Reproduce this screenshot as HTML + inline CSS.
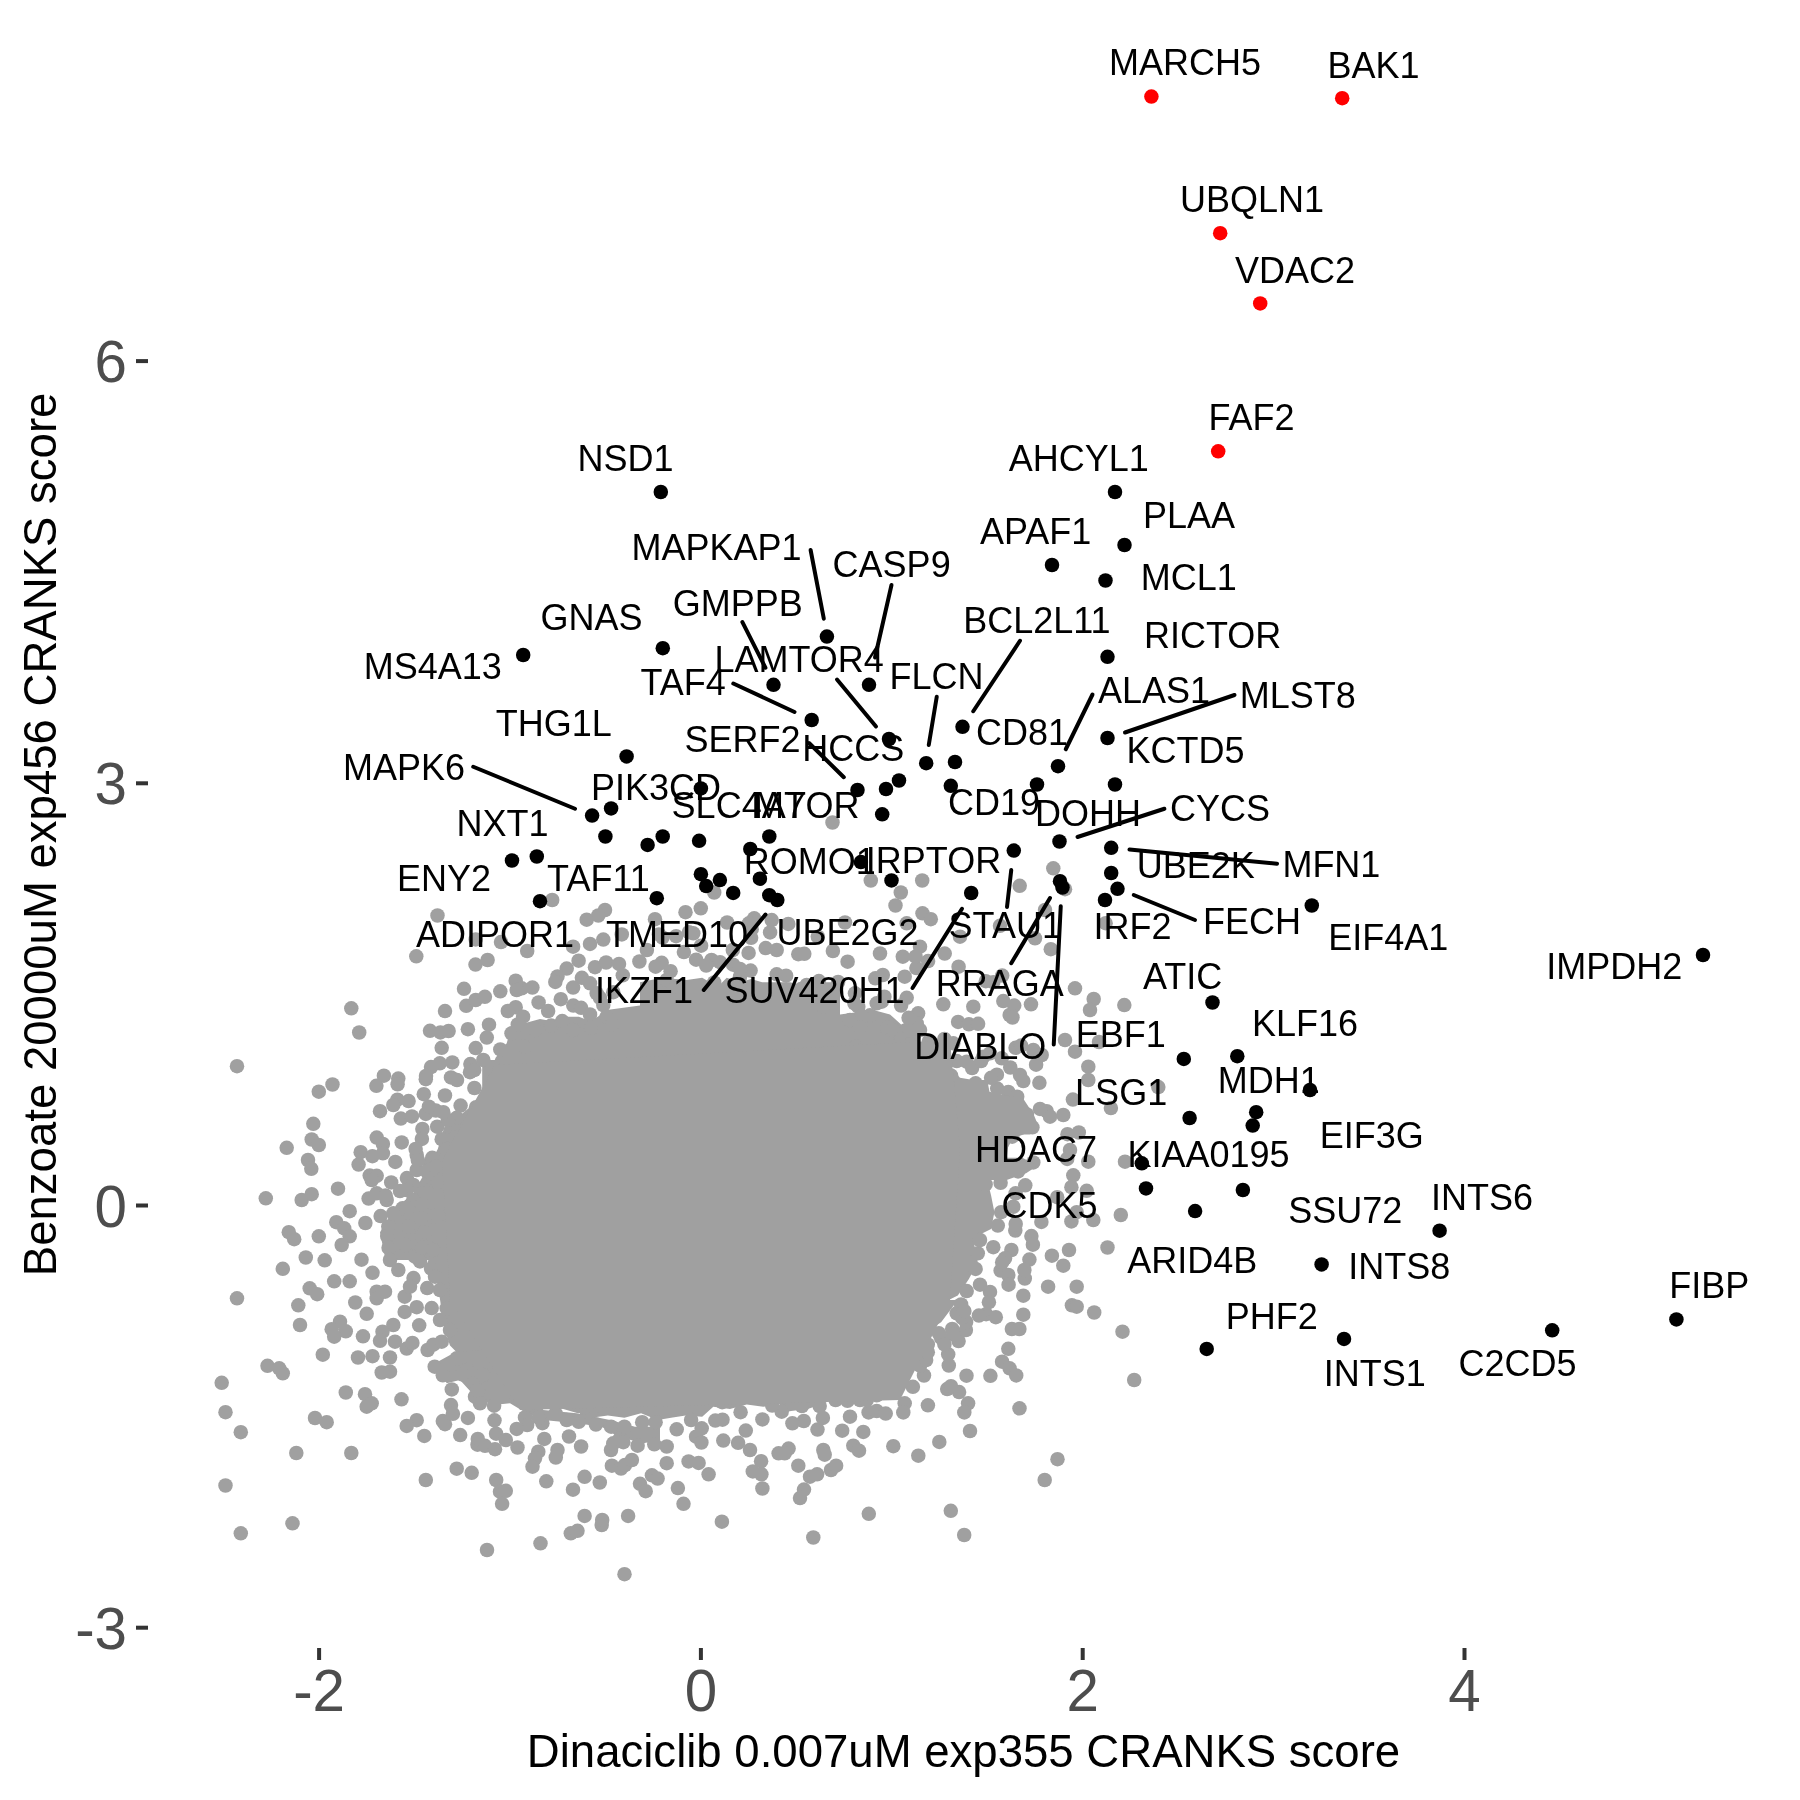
<!DOCTYPE html>
<html><head><meta charset="utf-8"><style>
html,body{margin:0;padding:0;background:#fff;}
svg{display:block;font-family:"Liberation Sans",sans-serif;will-change:transform;}
</style></head><body>
<svg width="1800" height="1800" viewBox="0 0 1800 1800">
<rect width="1800" height="1800" fill="#fff"/>

<g fill="#A0A0A0">
<polygon points="482.2,1060.0 560.0,1060.0 560.0,1260.0 385.6,1260.0 380.0,1232.2 393.3,1210.0 413.3,1193.3 428.9,1165.6 437.8,1148.9 444.4,1126.7 460.0,1115.6 482.2,1096.7"/>
<polygon points="482.2,1130.0 483.3,1096.7 488.9,1074.4 495.6,1057.8 506.7,1043.3 511.1,1027.8 524.4,1023.3 540.0,1018.9 551.1,1021.1 562.2,1016.7 578.9,1016.7 590.0,1021.1 597.8,1016.7 606.7,1010.0 640.0,1005.6 640.0,1130.0"/>
<polygon points="640.0,982.2 662.2,977.8 686.7,980.0 702.2,977.8 717.8,986.7 726.7,977.8 740.0,982.2 751.1,978.9 762.2,982.2 775.6,982.2 790.0,982.2 806.7,986.7 823.3,982.2 840.0,982.2 840.0,1120.0 640.0,1120.0"/>
<polygon points="840.0,1014.4 873.3,1010.0 890.0,1014.4 901.1,1024.4 917.8,1016.7 924.4,1027.8 917.8,1044.4 931.1,1061.1 951.1,1067.8 960.0,1077.8 973.3,1080.0 984.4,1090.0 1001.1,1105.6 1012.2,1112.2 1028.9,1118.9 1037.8,1127.8 1023.3,1134.4 1012.2,1138.9 1006.7,1150.0 840.0,1150.0"/>
<polygon points="880.0,1140.0 972.2,1140.0 971.1,1165.6 985.6,1173.3 991.1,1195.6 994.4,1212.2 991.1,1228.9 980.0,1234.4 974.4,1245.6 977.8,1262.2 968.9,1278.9 957.8,1295.6 946.7,1301.1 935.6,1323.3 926.7,1340.0 880.0,1340.0"/>
<polygon points="780.0,1300.0 957.8,1300.0 941.1,1322.2 924.4,1333.3 913.3,1355.6 896.7,1366.7 880.0,1372.2 868.9,1383.3 857.8,1386.7 841.1,1394.4 824.4,1403.3 807.8,1408.9 791.1,1411.1 780.0,1413.3"/>
<polygon points="580.0,1320.0 780.0,1320.0 780.0,1404.4 763.3,1406.7 746.7,1404.4 730.0,1408.9 713.3,1406.7 702.2,1416.7 685.6,1415.6 671.1,1417.8 657.8,1420.0 641.1,1413.3 624.4,1417.8 607.8,1415.6 591.1,1417.8 580.0,1417.8"/>
<polygon points="433.3,1240.0 600.0,1240.0 600.0,1412.2 577.8,1413.3 555.6,1406.7 538.9,1401.1 527.8,1384.4 511.1,1384.4 500.0,1378.9 488.9,1371.1 477.8,1362.2 461.1,1356.7 450.0,1345.6 444.4,1328.9 441.1,1306.7 437.8,1284.4 427.8,1262.2"/>
<polygon points="435.0,1363.3 453.3,1353.3 476.7,1350.0 510.0,1360.0 535.0,1385.0 543.3,1410.0 576.7,1413.3 610.0,1420.0 635.0,1426.7 660.0,1426.7 660.0,1440.0 643.3,1443.3 618.3,1436.7 601.7,1426.7 576.7,1423.3 543.3,1420.0 526.7,1413.3 510.0,1403.3 493.3,1405.0 476.7,1398.3 460.0,1380.0 446.7,1383.3"/>
<circle cx="437.5" cy="915.5" r="7.25"/>
<circle cx="475.7" cy="939.4" r="7.25"/>
<circle cx="501.0" cy="942.1" r="7.25"/>
<circle cx="416.3" cy="956.3" r="7.25"/>
<circle cx="475.5" cy="964.6" r="7.25"/>
<circle cx="487.6" cy="960.0" r="7.25"/>
<circle cx="464.0" cy="988.8" r="7.25"/>
<circle cx="500.3" cy="991.3" r="7.25"/>
<circle cx="466.2" cy="1005.8" r="7.25"/>
<circle cx="475.7" cy="1000.0" r="7.25"/>
<circle cx="484.9" cy="996.8" r="7.25"/>
<circle cx="351.3" cy="1008.3" r="7.25"/>
<circle cx="445.0" cy="1011.1" r="7.25"/>
<circle cx="359.2" cy="1032.5" r="7.25"/>
<circle cx="430.0" cy="1030.8" r="7.25"/>
<circle cx="440.4" cy="1032.4" r="7.25"/>
<circle cx="448.6" cy="1031.0" r="7.25"/>
<circle cx="467.9" cy="1029.2" r="7.25"/>
<circle cx="489.0" cy="1024.7" r="7.25"/>
<circle cx="486.8" cy="1037.6" r="7.25"/>
<circle cx="441.7" cy="1047.8" r="7.25"/>
<circle cx="475.7" cy="1048.1" r="7.25"/>
<circle cx="500.3" cy="1049.4" r="7.25"/>
<circle cx="237.0" cy="1066.2" r="7.25"/>
<circle cx="439.8" cy="1063.3" r="7.25"/>
<circle cx="452.3" cy="1062.4" r="7.25"/>
<circle cx="431.0" cy="1067.1" r="7.25"/>
<circle cx="426.0" cy="1076.0" r="7.25"/>
<circle cx="425.8" cy="1079.2" r="7.25"/>
<circle cx="451.0" cy="1077.4" r="7.25"/>
<circle cx="457.0" cy="1080.0" r="7.25"/>
<circle cx="470.4" cy="1064.1" r="7.25"/>
<circle cx="474.2" cy="1070.0" r="7.25"/>
<circle cx="383.9" cy="1075.7" r="7.25"/>
<circle cx="376.4" cy="1085.8" r="7.25"/>
<circle cx="398.3" cy="1078.6" r="7.25"/>
<circle cx="397.6" cy="1084.3" r="7.25"/>
<circle cx="332.5" cy="1084.5" r="7.25"/>
<circle cx="318.8" cy="1091.7" r="7.25"/>
<circle cx="474.4" cy="1088.0" r="7.25"/>
<circle cx="445.0" cy="1095.5" r="7.25"/>
<circle cx="423.8" cy="1094.2" r="7.25"/>
<circle cx="397.4" cy="1099.7" r="7.25"/>
<circle cx="408.6" cy="1101.1" r="7.25"/>
<circle cx="483.3" cy="1060.0" r="7.25"/>
<circle cx="493.3" cy="1068.3" r="7.25"/>
<circle cx="496.7" cy="1085.0" r="7.25"/>
<circle cx="552.2" cy="900.0" r="7.25"/>
<circle cx="714.2" cy="892.5" r="7.25"/>
<circle cx="700.8" cy="908.3" r="7.25"/>
<circle cx="685.5" cy="912.2" r="7.25"/>
<circle cx="605.0" cy="910.0" r="7.25"/>
<circle cx="598.3" cy="915.5" r="7.25"/>
<circle cx="586.7" cy="919.7" r="7.25"/>
<circle cx="655.0" cy="919.2" r="7.25"/>
<circle cx="727.1" cy="922.5" r="7.25"/>
<circle cx="754.2" cy="918.3" r="7.25"/>
<circle cx="771.7" cy="920.1" r="7.25"/>
<circle cx="788.3" cy="923.9" r="7.25"/>
<circle cx="751.7" cy="929.2" r="7.25"/>
<circle cx="770.1" cy="932.4" r="7.25"/>
<circle cx="621.8" cy="934.4" r="7.25"/>
<circle cx="693.3" cy="933.3" r="7.25"/>
<circle cx="676.1" cy="936.2" r="7.25"/>
<circle cx="662.5" cy="937.5" r="7.25"/>
<circle cx="603.3" cy="939.6" r="7.25"/>
<circle cx="590.0" cy="943.9" r="7.25"/>
<circle cx="573.1" cy="946.7" r="7.25"/>
<circle cx="527.2" cy="951.0" r="7.25"/>
<circle cx="701.1" cy="945.7" r="7.25"/>
<circle cx="732.8" cy="950.0" r="7.25"/>
<circle cx="748.6" cy="952.9" r="7.25"/>
<circle cx="765.7" cy="948.1" r="7.25"/>
<circle cx="776.7" cy="950.0" r="7.25"/>
<circle cx="798.3" cy="954.2" r="7.25"/>
<circle cx="646.9" cy="950.0" r="7.25"/>
<circle cx="683.9" cy="952.1" r="7.25"/>
<circle cx="696.1" cy="959.7" r="7.25"/>
<circle cx="711.5" cy="960.0" r="7.25"/>
<circle cx="706.2" cy="965.6" r="7.25"/>
<circle cx="578.6" cy="960.7" r="7.25"/>
<circle cx="639.4" cy="961.5" r="7.25"/>
<circle cx="595.0" cy="967.2" r="7.25"/>
<circle cx="606.1" cy="962.5" r="7.25"/>
<circle cx="619.0" cy="963.9" r="7.25"/>
<circle cx="622.8" cy="975.3" r="7.25"/>
<circle cx="661.7" cy="962.8" r="7.25"/>
<circle cx="670.6" cy="971.2" r="7.25"/>
<circle cx="750.6" cy="970.6" r="7.25"/>
<circle cx="776.7" cy="974.3" r="7.25"/>
<circle cx="786.1" cy="975.7" r="7.25"/>
<circle cx="566.7" cy="968.6" r="7.25"/>
<circle cx="557.5" cy="976.4" r="7.25"/>
<circle cx="555.3" cy="981.9" r="7.25"/>
<circle cx="515.7" cy="980.7" r="7.25"/>
<circle cx="532.4" cy="987.6" r="7.25"/>
<circle cx="521.7" cy="988.3" r="7.25"/>
<circle cx="581.9" cy="977.8" r="7.25"/>
<circle cx="573.1" cy="987.6" r="7.25"/>
<circle cx="596.7" cy="993.3" r="7.25"/>
<circle cx="603.3" cy="1005.0" r="7.25"/>
<circle cx="560.8" cy="999.2" r="7.25"/>
<circle cx="538.6" cy="1002.4" r="7.25"/>
<circle cx="548.1" cy="1011.0" r="7.25"/>
<circle cx="515.7" cy="1007.2" r="7.25"/>
<circle cx="507.8" cy="1011.0" r="7.25"/>
<circle cx="523.1" cy="1016.7" r="7.25"/>
<circle cx="511.5" cy="1033.3" r="7.25"/>
<circle cx="666.7" cy="980.0" r="7.25"/>
<circle cx="676.7" cy="986.7" r="7.25"/>
<circle cx="714.2" cy="982.5" r="7.25"/>
<circle cx="740.0" cy="976.7" r="7.25"/>
<circle cx="733.1" cy="964.7" r="7.25"/>
<circle cx="870.8" cy="880.5" r="7.25"/>
<circle cx="922.2" cy="880.5" r="7.25"/>
<circle cx="900.8" cy="892.5" r="7.25"/>
<circle cx="895.5" cy="905.5" r="7.25"/>
<circle cx="922.5" cy="913.3" r="7.25"/>
<circle cx="930.8" cy="919.2" r="7.25"/>
<circle cx="1053.3" cy="868.3" r="7.25"/>
<circle cx="1019.7" cy="885.8" r="7.25"/>
<circle cx="1065.0" cy="889.2" r="7.25"/>
<circle cx="845.0" cy="922.5" r="7.25"/>
<circle cx="906.7" cy="923.3" r="7.25"/>
<circle cx="960.0" cy="936.7" r="7.25"/>
<circle cx="1000.0" cy="925.8" r="7.25"/>
<circle cx="1035.0" cy="938.3" r="7.25"/>
<circle cx="1045.0" cy="910.0" r="7.25"/>
<circle cx="1050.8" cy="949.2" r="7.25"/>
<circle cx="804.3" cy="953.8" r="7.25"/>
<circle cx="832.9" cy="951.0" r="7.25"/>
<circle cx="847.6" cy="961.7" r="7.25"/>
<circle cx="880.0" cy="953.5" r="7.25"/>
<circle cx="902.8" cy="956.7" r="7.25"/>
<circle cx="920.0" cy="946.7" r="7.25"/>
<circle cx="928.1" cy="961.1" r="7.25"/>
<circle cx="944.7" cy="953.6" r="7.25"/>
<circle cx="958.6" cy="966.7" r="7.25"/>
<circle cx="916.4" cy="968.1" r="7.25"/>
<circle cx="904.7" cy="976.7" r="7.25"/>
<circle cx="985.8" cy="981.2" r="7.25"/>
<circle cx="1075.0" cy="988.3" r="7.25"/>
<circle cx="1093.7" cy="999.0" r="7.25"/>
<circle cx="1090.0" cy="1010.0" r="7.25"/>
<circle cx="943.3" cy="1004.3" r="7.25"/>
<circle cx="973.3" cy="1006.7" r="7.25"/>
<circle cx="1003.3" cy="1001.1" r="7.25"/>
<circle cx="1014.2" cy="1005.6" r="7.25"/>
<circle cx="1031.0" cy="1004.3" r="7.25"/>
<circle cx="1009.7" cy="1015.0" r="7.25"/>
<circle cx="1012.5" cy="1017.5" r="7.25"/>
<circle cx="958.1" cy="1021.9" r="7.25"/>
<circle cx="968.9" cy="1024.3" r="7.25"/>
<circle cx="978.1" cy="1023.8" r="7.25"/>
<circle cx="918.1" cy="1013.3" r="7.25"/>
<circle cx="920.0" cy="1030.0" r="7.25"/>
<circle cx="1065.0" cy="1040.0" r="7.25"/>
<circle cx="1075.0" cy="1051.7" r="7.25"/>
<circle cx="1099.0" cy="1042.0" r="7.25"/>
<circle cx="1033.3" cy="1050.0" r="7.25"/>
<circle cx="1041.7" cy="1055.0" r="7.25"/>
<circle cx="1036.1" cy="1064.7" r="7.25"/>
<circle cx="1088.3" cy="1066.7" r="7.25"/>
<circle cx="1088.3" cy="1080.0" r="7.25"/>
<circle cx="1072.9" cy="1099.6" r="7.25"/>
<circle cx="1039.4" cy="1082.8" r="7.25"/>
<circle cx="1020.0" cy="1075.0" r="7.25"/>
<circle cx="1010.3" cy="1067.5" r="7.25"/>
<circle cx="996.9" cy="1074.7" r="7.25"/>
<circle cx="997.2" cy="1088.6" r="7.25"/>
<circle cx="1008.3" cy="1091.9" r="7.25"/>
<circle cx="1017.2" cy="1096.7" r="7.25"/>
<circle cx="1046.7" cy="1111.2" r="7.25"/>
<circle cx="1063.3" cy="1115.0" r="7.25"/>
<circle cx="1032.4" cy="1127.3" r="7.25"/>
<circle cx="1018.3" cy="1116.7" r="7.25"/>
<circle cx="1067.5" cy="1134.2" r="7.25"/>
<circle cx="1078.8" cy="1132.5" r="7.25"/>
<circle cx="966.7" cy="1061.7" r="7.25"/>
<circle cx="972.1" cy="1068.1" r="7.25"/>
<circle cx="983.3" cy="1056.7" r="7.25"/>
<circle cx="1001.7" cy="1058.3" r="7.25"/>
<circle cx="1026.9" cy="1114.5" r="7.25"/>
<circle cx="1005.6" cy="1109.7" r="7.25"/>
<circle cx="806.7" cy="985.0" r="7.25"/>
<circle cx="818.9" cy="981.1" r="7.25"/>
<circle cx="838.1" cy="981.9" r="7.25"/>
<circle cx="855.0" cy="993.3" r="7.25"/>
<circle cx="875.3" cy="978.3" r="7.25"/>
<circle cx="882.8" cy="975.0" r="7.25"/>
<circle cx="881.7" cy="1001.7" r="7.25"/>
<circle cx="901.1" cy="1005.6" r="7.25"/>
<circle cx="916.7" cy="1023.3" r="7.25"/>
<circle cx="908.6" cy="1017.8" r="7.25"/>
<circle cx="858.3" cy="1006.7" r="7.25"/>
<circle cx="870.0" cy="1015.3" r="7.25"/>
<circle cx="850.0" cy="1020.0" r="7.25"/>
<circle cx="823.3" cy="1006.7" r="7.25"/>
<circle cx="313.3" cy="1123.8" r="7.25"/>
<circle cx="311.7" cy="1139.5" r="7.25"/>
<circle cx="318.8" cy="1145.0" r="7.25"/>
<circle cx="286.7" cy="1147.8" r="7.25"/>
<circle cx="308.0" cy="1160.0" r="7.25"/>
<circle cx="311.3" cy="1168.8" r="7.25"/>
<circle cx="265.8" cy="1198.3" r="7.25"/>
<circle cx="301.7" cy="1200.0" r="7.25"/>
<circle cx="311.7" cy="1194.2" r="7.25"/>
<circle cx="338.0" cy="1188.7" r="7.25"/>
<circle cx="349.7" cy="1211.2" r="7.25"/>
<circle cx="336.3" cy="1222.2" r="7.25"/>
<circle cx="344.2" cy="1228.3" r="7.25"/>
<circle cx="349.7" cy="1236.3" r="7.25"/>
<circle cx="341.7" cy="1245.0" r="7.25"/>
<circle cx="288.8" cy="1232.2" r="7.25"/>
<circle cx="294.2" cy="1239.2" r="7.25"/>
<circle cx="318.8" cy="1236.3" r="7.25"/>
<circle cx="305.8" cy="1257.5" r="7.25"/>
<circle cx="324.7" cy="1260.3" r="7.25"/>
<circle cx="282.8" cy="1268.8" r="7.25"/>
<circle cx="361.5" cy="1259.7" r="7.25"/>
<circle cx="372.5" cy="1272.8" r="7.25"/>
<circle cx="334.2" cy="1281.3" r="7.25"/>
<circle cx="349.7" cy="1281.3" r="7.25"/>
<circle cx="309.7" cy="1288.3" r="7.25"/>
<circle cx="317.2" cy="1294.2" r="7.25"/>
<circle cx="237.0" cy="1298.3" r="7.25"/>
<circle cx="298.3" cy="1305.3" r="7.25"/>
<circle cx="355.3" cy="1302.5" r="7.25"/>
<circle cx="366.7" cy="1313.8" r="7.25"/>
<circle cx="300.0" cy="1325.0" r="7.25"/>
<circle cx="340.0" cy="1321.7" r="7.25"/>
<circle cx="331.7" cy="1329.2" r="7.25"/>
<circle cx="345.8" cy="1331.3" r="7.25"/>
<circle cx="334.2" cy="1336.7" r="7.25"/>
<circle cx="363.0" cy="1336.3" r="7.25"/>
<circle cx="322.8" cy="1354.7" r="7.25"/>
<circle cx="358.0" cy="1357.5" r="7.25"/>
<circle cx="372.5" cy="1356.2" r="7.25"/>
<circle cx="390.0" cy="1357.5" r="7.25"/>
<circle cx="381.7" cy="1372.5" r="7.25"/>
<circle cx="390.0" cy="1371.7" r="7.25"/>
<circle cx="267.5" cy="1365.8" r="7.25"/>
<circle cx="279.2" cy="1368.3" r="7.25"/>
<circle cx="282.8" cy="1373.3" r="7.25"/>
<circle cx="221.7" cy="1382.8" r="7.25"/>
<circle cx="345.8" cy="1392.5" r="7.25"/>
<circle cx="365.0" cy="1394.2" r="7.25"/>
<circle cx="401.5" cy="1399.3" r="7.25"/>
<circle cx="380.0" cy="1111.2" r="7.25"/>
<circle cx="358.6" cy="1164.6" r="7.25"/>
<circle cx="360.7" cy="1152.2" r="7.25"/>
<circle cx="372.4" cy="1156.2" r="7.25"/>
<circle cx="376.7" cy="1137.6" r="7.25"/>
<circle cx="382.9" cy="1143.9" r="7.25"/>
<circle cx="382.9" cy="1153.3" r="7.25"/>
<circle cx="401.7" cy="1142.4" r="7.25"/>
<circle cx="395.3" cy="1161.9" r="7.25"/>
<circle cx="422.4" cy="1129.0" r="7.25"/>
<circle cx="421.9" cy="1138.9" r="7.25"/>
<circle cx="416.7" cy="1155.0" r="7.25"/>
<circle cx="369.7" cy="1175.6" r="7.25"/>
<circle cx="376.7" cy="1175.8" r="7.25"/>
<circle cx="371.7" cy="1180.0" r="7.25"/>
<circle cx="391.2" cy="1182.4" r="7.25"/>
<circle cx="368.6" cy="1198.6" r="7.25"/>
<circle cx="376.7" cy="1193.3" r="7.25"/>
<circle cx="386.7" cy="1200.0" r="7.25"/>
<circle cx="402.5" cy="1208.3" r="7.25"/>
<circle cx="365.4" cy="1223.0" r="7.25"/>
<circle cx="380.6" cy="1216.1" r="7.25"/>
<circle cx="388.3" cy="1226.7" r="7.25"/>
<circle cx="387.2" cy="1236.1" r="7.25"/>
<circle cx="388.6" cy="1247.8" r="7.25"/>
<circle cx="390.0" cy="1260.0" r="7.25"/>
<circle cx="398.3" cy="1270.0" r="7.25"/>
<circle cx="413.5" cy="1278.1" r="7.25"/>
<circle cx="427.2" cy="1288.1" r="7.25"/>
<circle cx="420.0" cy="1261.4" r="7.25"/>
<circle cx="376.7" cy="1291.7" r="7.25"/>
<circle cx="376.7" cy="1298.3" r="7.25"/>
<circle cx="385.0" cy="1291.7" r="7.25"/>
<circle cx="404.7" cy="1296.7" r="7.25"/>
<circle cx="404.7" cy="1311.9" r="7.25"/>
<circle cx="416.7" cy="1307.2" r="7.25"/>
<circle cx="431.7" cy="1308.1" r="7.25"/>
<circle cx="440.0" cy="1320.0" r="7.25"/>
<circle cx="419.2" cy="1325.3" r="7.25"/>
<circle cx="393.3" cy="1325.0" r="7.25"/>
<circle cx="382.5" cy="1331.7" r="7.25"/>
<circle cx="380.0" cy="1340.8" r="7.25"/>
<circle cx="395.0" cy="1341.7" r="7.25"/>
<circle cx="406.7" cy="1348.6" r="7.25"/>
<circle cx="412.4" cy="1342.9" r="7.25"/>
<circle cx="427.6" cy="1350.0" r="7.25"/>
<circle cx="433.3" cy="1344.7" r="7.25"/>
<circle cx="434.7" cy="1366.7" r="7.25"/>
<circle cx="442.8" cy="1375.3" r="7.25"/>
<circle cx="451.8" cy="1389.4" r="7.25"/>
<circle cx="406.9" cy="1178.1" r="7.25"/>
<circle cx="413.3" cy="1185.0" r="7.25"/>
<circle cx="433.3" cy="1180.0" r="7.25"/>
<circle cx="393.3" cy="1105.0" r="7.25"/>
<circle cx="400.8" cy="1118.6" r="7.25"/>
<circle cx="411.9" cy="1116.4" r="7.25"/>
<circle cx="425.8" cy="1113.9" r="7.25"/>
<circle cx="435.8" cy="1110.6" r="7.25"/>
<circle cx="437.2" cy="1126.7" r="7.25"/>
<circle cx="441.7" cy="1139.2" r="7.25"/>
<circle cx="430.0" cy="1163.3" r="7.25"/>
<circle cx="416.7" cy="1170.0" r="7.25"/>
<circle cx="406.7" cy="1190.0" r="7.25"/>
<circle cx="421.7" cy="1193.3" r="7.25"/>
<circle cx="413.3" cy="1200.0" r="7.25"/>
<circle cx="433.3" cy="1216.7" r="7.25"/>
<circle cx="408.3" cy="1226.7" r="7.25"/>
<circle cx="421.7" cy="1236.7" r="7.25"/>
<circle cx="433.3" cy="1250.0" r="7.25"/>
<circle cx="415.0" cy="1256.7" r="7.25"/>
<circle cx="431.1" cy="1268.6" r="7.25"/>
<circle cx="435.0" cy="1276.7" r="7.25"/>
<circle cx="410.0" cy="1286.7" r="7.25"/>
<circle cx="440.0" cy="1290.0" r="7.25"/>
<circle cx="446.7" cy="1308.3" r="7.25"/>
<circle cx="450.0" cy="1330.0" r="7.25"/>
<circle cx="441.7" cy="1341.7" r="7.25"/>
<circle cx="456.7" cy="1358.3" r="7.25"/>
<circle cx="466.7" cy="1370.0" r="7.25"/>
<circle cx="473.3" cy="1383.3" r="7.25"/>
<circle cx="475.0" cy="1396.7" r="7.25"/>
<circle cx="483.3" cy="1375.0" r="7.25"/>
<circle cx="1110.9" cy="1108.1" r="7.25"/>
<circle cx="1050.0" cy="1116.7" r="7.25"/>
<circle cx="1018.3" cy="1108.9" r="7.25"/>
<circle cx="1070.0" cy="1150.0" r="7.25"/>
<circle cx="1067.2" cy="1158.9" r="7.25"/>
<circle cx="1088.3" cy="1161.7" r="7.25"/>
<circle cx="1125.0" cy="1161.7" r="7.25"/>
<circle cx="1033.3" cy="1162.4" r="7.25"/>
<circle cx="1018.1" cy="1171.4" r="7.25"/>
<circle cx="1073.3" cy="1175.3" r="7.25"/>
<circle cx="1071.4" cy="1187.2" r="7.25"/>
<circle cx="1086.7" cy="1190.8" r="7.25"/>
<circle cx="1057.2" cy="1197.2" r="7.25"/>
<circle cx="1025.3" cy="1185.3" r="7.25"/>
<circle cx="1000.6" cy="1182.8" r="7.25"/>
<circle cx="1120.8" cy="1215.0" r="7.25"/>
<circle cx="1093.3" cy="1220.0" r="7.25"/>
<circle cx="1071.4" cy="1221.4" r="7.25"/>
<circle cx="1041.4" cy="1221.9" r="7.25"/>
<circle cx="1015.3" cy="1230.6" r="7.25"/>
<circle cx="1015.7" cy="1223.9" r="7.25"/>
<circle cx="1031.4" cy="1236.1" r="7.25"/>
<circle cx="1032.9" cy="1244.7" r="7.25"/>
<circle cx="1107.5" cy="1247.5" r="7.25"/>
<circle cx="1069.0" cy="1250.0" r="7.25"/>
<circle cx="1051.9" cy="1255.7" r="7.25"/>
<circle cx="1063.3" cy="1265.7" r="7.25"/>
<circle cx="1029.4" cy="1259.6" r="7.25"/>
<circle cx="993.3" cy="1247.2" r="7.25"/>
<circle cx="1011.4" cy="1250.0" r="7.25"/>
<circle cx="1005.0" cy="1258.3" r="7.25"/>
<circle cx="1000.6" cy="1270.6" r="7.25"/>
<circle cx="1008.3" cy="1275.0" r="7.25"/>
<circle cx="1024.8" cy="1278.5" r="7.25"/>
<circle cx="1008.6" cy="1284.7" r="7.25"/>
<circle cx="1048.1" cy="1286.7" r="7.25"/>
<circle cx="1076.7" cy="1286.7" r="7.25"/>
<circle cx="1023.3" cy="1295.7" r="7.25"/>
<circle cx="990.0" cy="1291.9" r="7.25"/>
<circle cx="980.0" cy="1284.7" r="7.25"/>
<circle cx="1071.9" cy="1305.3" r="7.25"/>
<circle cx="1076.7" cy="1306.7" r="7.25"/>
<circle cx="1094.2" cy="1312.5" r="7.25"/>
<circle cx="1023.3" cy="1314.7" r="7.25"/>
<circle cx="986.1" cy="1314.2" r="7.25"/>
<circle cx="995.8" cy="1317.2" r="7.25"/>
<circle cx="1011.9" cy="1329.0" r="7.25"/>
<circle cx="1019.4" cy="1329.0" r="7.25"/>
<circle cx="1122.5" cy="1331.7" r="7.25"/>
<circle cx="1008.3" cy="1348.8" r="7.25"/>
<circle cx="1002.1" cy="1361.7" r="7.25"/>
<circle cx="1009.6" cy="1368.3" r="7.25"/>
<circle cx="1016.2" cy="1375.4" r="7.25"/>
<circle cx="990.4" cy="1375.8" r="7.25"/>
<circle cx="966.5" cy="1375.7" r="7.25"/>
<circle cx="1134.2" cy="1380.0" r="7.25"/>
<circle cx="958.6" cy="1341.1" r="7.25"/>
<circle cx="948.8" cy="1365.5" r="7.25"/>
<circle cx="924.0" cy="1375.5" r="7.25"/>
<circle cx="912.9" cy="1386.8" r="7.25"/>
<circle cx="947.2" cy="1389.1" r="7.25"/>
<circle cx="959.1" cy="1392.1" r="7.25"/>
<circle cx="965.9" cy="1330.0" r="7.25"/>
<circle cx="966.1" cy="1321.9" r="7.25"/>
<circle cx="956.7" cy="1313.3" r="7.25"/>
<circle cx="225.5" cy="1412.2" r="7.25"/>
<circle cx="240.8" cy="1432.2" r="7.25"/>
<circle cx="315.0" cy="1418.0" r="7.25"/>
<circle cx="326.7" cy="1422.2" r="7.25"/>
<circle cx="366.7" cy="1406.7" r="7.25"/>
<circle cx="371.7" cy="1403.3" r="7.25"/>
<circle cx="296.3" cy="1453.0" r="7.25"/>
<circle cx="351.3" cy="1453.0" r="7.25"/>
<circle cx="416.7" cy="1420.2" r="7.25"/>
<circle cx="406.7" cy="1425.9" r="7.25"/>
<circle cx="424.3" cy="1435.9" r="7.25"/>
<circle cx="442.8" cy="1421.1" r="7.25"/>
<circle cx="445.0" cy="1424.2" r="7.25"/>
<circle cx="451.0" cy="1405.1" r="7.25"/>
<circle cx="452.9" cy="1413.8" r="7.25"/>
<circle cx="467.9" cy="1417.9" r="7.25"/>
<circle cx="460.2" cy="1435.1" r="7.25"/>
<circle cx="477.5" cy="1444.7" r="7.25"/>
<circle cx="485.0" cy="1445.8" r="7.25"/>
<circle cx="495.0" cy="1449.2" r="7.25"/>
<circle cx="494.5" cy="1420.3" r="7.25"/>
<circle cx="496.1" cy="1433.7" r="7.25"/>
<circle cx="456.7" cy="1468.7" r="7.25"/>
<circle cx="471.7" cy="1472.8" r="7.25"/>
<circle cx="425.8" cy="1480.0" r="7.25"/>
<circle cx="496.2" cy="1480.0" r="7.25"/>
<circle cx="500.0" cy="1491.7" r="7.25"/>
<circle cx="502.1" cy="1503.8" r="7.25"/>
<circle cx="225.5" cy="1485.5" r="7.25"/>
<circle cx="292.5" cy="1523.3" r="7.25"/>
<circle cx="240.8" cy="1533.3" r="7.25"/>
<circle cx="487.0" cy="1550.0" r="7.25"/>
<circle cx="480.0" cy="1403.3" r="7.25"/>
<circle cx="494.1" cy="1405.7" r="7.25"/>
<circle cx="505.8" cy="1440.0" r="7.25"/>
<circle cx="517.5" cy="1447.5" r="7.25"/>
<circle cx="515.1" cy="1394.2" r="7.25"/>
<circle cx="525.0" cy="1417.5" r="7.25"/>
<circle cx="527.2" cy="1425.0" r="7.25"/>
<circle cx="542.4" cy="1423.2" r="7.25"/>
<circle cx="544.3" cy="1438.9" r="7.25"/>
<circle cx="538.3" cy="1451.7" r="7.25"/>
<circle cx="535.0" cy="1458.3" r="7.25"/>
<circle cx="532.5" cy="1466.7" r="7.25"/>
<circle cx="557.5" cy="1450.0" r="7.25"/>
<circle cx="555.8" cy="1457.5" r="7.25"/>
<circle cx="569.0" cy="1436.5" r="7.25"/>
<circle cx="581.1" cy="1446.5" r="7.25"/>
<circle cx="578.7" cy="1421.8" r="7.25"/>
<circle cx="595.9" cy="1424.6" r="7.25"/>
<circle cx="611.0" cy="1450.0" r="7.25"/>
<circle cx="613.3" cy="1443.3" r="7.25"/>
<circle cx="620.0" cy="1438.3" r="7.25"/>
<circle cx="611.9" cy="1465.7" r="7.25"/>
<circle cx="621.0" cy="1468.6" r="7.25"/>
<circle cx="625.0" cy="1465.0" r="7.25"/>
<circle cx="631.9" cy="1460.0" r="7.25"/>
<circle cx="637.6" cy="1445.7" r="7.25"/>
<circle cx="654.3" cy="1444.3" r="7.25"/>
<circle cx="666.7" cy="1446.5" r="7.25"/>
<circle cx="676.7" cy="1429.3" r="7.25"/>
<circle cx="696.1" cy="1436.7" r="7.25"/>
<circle cx="701.4" cy="1442.5" r="7.25"/>
<circle cx="666.7" cy="1463.2" r="7.25"/>
<circle cx="688.6" cy="1461.4" r="7.25"/>
<circle cx="698.6" cy="1462.9" r="7.25"/>
<circle cx="708.6" cy="1474.3" r="7.25"/>
<circle cx="723.3" cy="1440.6" r="7.25"/>
<circle cx="738.1" cy="1442.8" r="7.25"/>
<circle cx="750.0" cy="1450.0" r="7.25"/>
<circle cx="745.8" cy="1430.6" r="7.25"/>
<circle cx="762.4" cy="1419.4" r="7.25"/>
<circle cx="740.6" cy="1412.2" r="7.25"/>
<circle cx="761.1" cy="1461.2" r="7.25"/>
<circle cx="752.8" cy="1471.4" r="7.25"/>
<circle cx="761.4" cy="1474.3" r="7.25"/>
<circle cx="762.4" cy="1488.5" r="7.25"/>
<circle cx="778.6" cy="1453.3" r="7.25"/>
<circle cx="505.8" cy="1490.8" r="7.25"/>
<circle cx="546.3" cy="1481.3" r="7.25"/>
<circle cx="573.0" cy="1489.7" r="7.25"/>
<circle cx="584.6" cy="1476.8" r="7.25"/>
<circle cx="599.8" cy="1482.5" r="7.25"/>
<circle cx="640.0" cy="1483.8" r="7.25"/>
<circle cx="645.7" cy="1491.2" r="7.25"/>
<circle cx="651.9" cy="1475.3" r="7.25"/>
<circle cx="657.6" cy="1478.6" r="7.25"/>
<circle cx="677.9" cy="1488.1" r="7.25"/>
<circle cx="683.5" cy="1503.8" r="7.25"/>
<circle cx="584.6" cy="1515.9" r="7.25"/>
<circle cx="601.7" cy="1525.0" r="7.25"/>
<circle cx="628.1" cy="1515.9" r="7.25"/>
<circle cx="570.8" cy="1533.3" r="7.25"/>
<circle cx="577.5" cy="1530.8" r="7.25"/>
<circle cx="721.9" cy="1521.7" r="7.25"/>
<circle cx="540.5" cy="1543.3" r="7.25"/>
<circle cx="624.5" cy="1574.2" r="7.25"/>
<circle cx="722.5" cy="1419.7" r="7.25"/>
<circle cx="701.7" cy="1428.3" r="7.25"/>
<circle cx="715.3" cy="1420.6" r="7.25"/>
<circle cx="948.2" cy="1354.3" r="7.25"/>
<circle cx="920.0" cy="1365.7" r="7.25"/>
<circle cx="926.1" cy="1360.0" r="7.25"/>
<circle cx="951.0" cy="1386.2" r="7.25"/>
<circle cx="968.1" cy="1403.3" r="7.25"/>
<circle cx="964.3" cy="1412.4" r="7.25"/>
<circle cx="970.0" cy="1431.0" r="7.25"/>
<circle cx="927.9" cy="1405.3" r="7.25"/>
<circle cx="904.7" cy="1403.3" r="7.25"/>
<circle cx="903.3" cy="1412.4" r="7.25"/>
<circle cx="1019.5" cy="1408.3" r="7.25"/>
<circle cx="876.7" cy="1395.3" r="7.25"/>
<circle cx="868.6" cy="1412.4" r="7.25"/>
<circle cx="876.7" cy="1411.0" r="7.25"/>
<circle cx="885.7" cy="1413.6" r="7.25"/>
<circle cx="850.0" cy="1416.7" r="7.25"/>
<circle cx="863.3" cy="1431.9" r="7.25"/>
<circle cx="842.2" cy="1430.7" r="7.25"/>
<circle cx="817.5" cy="1429.6" r="7.25"/>
<circle cx="822.9" cy="1417.9" r="7.25"/>
<circle cx="803.8" cy="1421.0" r="7.25"/>
<circle cx="792.4" cy="1423.3" r="7.25"/>
<circle cx="788.6" cy="1448.6" r="7.25"/>
<circle cx="784.7" cy="1453.3" r="7.25"/>
<circle cx="823.3" cy="1450.0" r="7.25"/>
<circle cx="824.7" cy="1454.7" r="7.25"/>
<circle cx="853.3" cy="1445.7" r="7.25"/>
<circle cx="859.0" cy="1450.7" r="7.25"/>
<circle cx="798.3" cy="1465.7" r="7.25"/>
<circle cx="810.0" cy="1476.7" r="7.25"/>
<circle cx="817.1" cy="1474.3" r="7.25"/>
<circle cx="831.0" cy="1470.0" r="7.25"/>
<circle cx="836.1" cy="1465.7" r="7.25"/>
<circle cx="804.0" cy="1489.6" r="7.25"/>
<circle cx="800.0" cy="1498.1" r="7.25"/>
<circle cx="893.3" cy="1446.2" r="7.25"/>
<circle cx="918.3" cy="1455.7" r="7.25"/>
<circle cx="939.3" cy="1441.9" r="7.25"/>
<circle cx="1057.5" cy="1459.2" r="7.25"/>
<circle cx="1044.7" cy="1480.0" r="7.25"/>
<circle cx="868.8" cy="1513.8" r="7.25"/>
<circle cx="950.8" cy="1510.8" r="7.25"/>
<circle cx="964.2" cy="1535.0" r="7.25"/>
<circle cx="813.3" cy="1537.5" r="7.25"/>
<circle cx="900.8" cy="1368.3" r="7.25"/>
<circle cx="890.0" cy="1372.8" r="7.25"/>
<circle cx="870.0" cy="1383.3" r="7.25"/>
<circle cx="854.4" cy="1381.4" r="7.25"/>
<circle cx="840.0" cy="1386.7" r="7.25"/>
<circle cx="847.5" cy="1400.8" r="7.25"/>
<circle cx="860.0" cy="1400.0" r="7.25"/>
<circle cx="781.7" cy="1411.7" r="7.25"/>
<circle cx="801.9" cy="1406.1" r="7.25"/>
<circle cx="819.7" cy="1406.1" r="7.25"/>
<circle cx="428.9" cy="1106.7" r="7.25"/>
<circle cx="460.6" cy="1105.6" r="7.25"/>
<circle cx="476.1" cy="1107.2" r="7.25"/>
<circle cx="456.7" cy="1117.8" r="7.25"/>
<circle cx="447.8" cy="1120.0" r="7.25"/>
<circle cx="454.4" cy="1137.8" r="7.25"/>
<circle cx="415.6" cy="1148.9" r="7.25"/>
<circle cx="417.8" cy="1160.0" r="7.25"/>
<circle cx="432.2" cy="1157.8" r="7.25"/>
<circle cx="446.7" cy="1148.9" r="7.25"/>
<circle cx="426.7" cy="1171.1" r="7.25"/>
<circle cx="435.6" cy="1166.7" r="7.25"/>
<circle cx="385.6" cy="1195.6" r="7.25"/>
<circle cx="400.0" cy="1191.1" r="7.25"/>
<circle cx="407.8" cy="1207.8" r="7.25"/>
<circle cx="422.2" cy="1204.4" r="7.25"/>
<circle cx="437.8" cy="1182.2" r="7.25"/>
<circle cx="456.7" cy="1176.7" r="7.25"/>
<circle cx="393.3" cy="1213.3" r="7.25"/>
<circle cx="424.4" cy="1232.2" r="7.25"/>
<circle cx="437.8" cy="1215.6" r="7.25"/>
<circle cx="460.0" cy="1204.4" r="7.25"/>
<circle cx="405.6" cy="1245.0" r="7.25"/>
<circle cx="421.7" cy="1247.8" r="7.25"/>
<circle cx="590.0" cy="983.3" r="7.25"/>
<circle cx="600.0" cy="997.8" r="7.25"/>
<circle cx="613.3" cy="992.2" r="7.25"/>
<circle cx="516.7" cy="990.0" r="7.25"/>
<circle cx="573.3" cy="1005.6" r="7.25"/>
<circle cx="581.1" cy="1007.8" r="7.25"/>
<circle cx="590.0" cy="1014.4" r="7.25"/>
<circle cx="606.7" cy="1016.7" r="7.25"/>
<circle cx="517.8" cy="1024.4" r="7.25"/>
<circle cx="535.6" cy="1030.0" r="7.25"/>
<circle cx="551.1" cy="1025.6" r="7.25"/>
<circle cx="562.2" cy="1021.1" r="7.25"/>
<circle cx="573.3" cy="1030.0" r="7.25"/>
<circle cx="591.1" cy="1027.8" r="7.25"/>
<circle cx="612.2" cy="1024.4" r="7.25"/>
<circle cx="524.4" cy="1046.7" r="7.25"/>
<circle cx="470.0" cy="1072.2" r="7.25"/>
<circle cx="443.3" cy="1112.2" r="7.25"/>
<circle cx="658.9" cy="934.4" r="7.25"/>
<circle cx="688.9" cy="932.2" r="7.25"/>
<circle cx="720.0" cy="962.2" r="7.25"/>
<circle cx="655.6" cy="966.7" r="7.25"/>
<circle cx="751.1" cy="937.8" r="7.25"/>
<circle cx="748.9" cy="923.3" r="7.25"/>
<circle cx="817.8" cy="936.7" r="7.25"/>
<circle cx="740.0" cy="968.9" r="7.25"/>
<circle cx="801.1" cy="988.9" r="7.25"/>
<circle cx="915.6" cy="956.7" r="7.25"/>
<circle cx="1002.2" cy="975.6" r="7.25"/>
<circle cx="993.3" cy="982.2" r="7.25"/>
<circle cx="906.7" cy="997.8" r="7.25"/>
<circle cx="854.4" cy="1003.3" r="7.25"/>
<circle cx="884.4" cy="996.7" r="7.25"/>
<circle cx="876.7" cy="1003.3" r="7.25"/>
<circle cx="928.9" cy="1041.1" r="7.25"/>
<circle cx="944.4" cy="1038.9" r="7.25"/>
<circle cx="953.3" cy="1043.3" r="7.25"/>
<circle cx="940.0" cy="1055.6" r="7.25"/>
<circle cx="956.7" cy="1061.1" r="7.25"/>
<circle cx="981.1" cy="1061.1" r="7.25"/>
<circle cx="990.0" cy="1053.3" r="7.25"/>
<circle cx="1015.6" cy="1047.8" r="7.25"/>
<circle cx="1021.1" cy="1045.6" r="7.25"/>
<circle cx="991.1" cy="1077.8" r="7.25"/>
<circle cx="1023.3" cy="1081.1" r="7.25"/>
<circle cx="951.1" cy="1075.6" r="7.25"/>
<circle cx="940.0" cy="1071.1" r="7.25"/>
<circle cx="923.3" cy="1073.3" r="7.25"/>
<circle cx="975.6" cy="1083.3" r="7.25"/>
<circle cx="981.1" cy="1090.0" r="7.25"/>
<circle cx="1012.2" cy="1122.2" r="7.25"/>
<circle cx="1001.1" cy="1122.2" r="7.25"/>
<circle cx="984.4" cy="1111.1" r="7.25"/>
<circle cx="993.3" cy="1103.3" r="7.25"/>
<circle cx="978.9" cy="1133.3" r="7.25"/>
<circle cx="1012.2" cy="1136.7" r="7.25"/>
<circle cx="997.8" cy="1130.0" r="7.25"/>
<circle cx="1040.0" cy="1108.9" r="7.25"/>
<circle cx="862.2" cy="1016.7" r="7.25"/>
<circle cx="860.0" cy="1027.8" r="7.25"/>
<circle cx="855.6" cy="1046.7" r="7.25"/>
<circle cx="886.7" cy="1027.8" r="7.25"/>
<circle cx="893.3" cy="1030.0" r="7.25"/>
<circle cx="901.1" cy="1038.9" r="7.25"/>
<circle cx="910.0" cy="1044.4" r="7.25"/>
<circle cx="844.4" cy="1074.4" r="7.25"/>
<circle cx="862.2" cy="1050.0" r="7.25"/>
<circle cx="996.7" cy="1165.6" r="7.25"/>
<circle cx="985.6" cy="1184.4" r="7.25"/>
<circle cx="1015.6" cy="1193.3" r="7.25"/>
<circle cx="1013.3" cy="1206.7" r="7.25"/>
<circle cx="1001.1" cy="1212.2" r="7.25"/>
<circle cx="1076.7" cy="1212.2" r="7.25"/>
<circle cx="997.8" cy="1225.6" r="7.25"/>
<circle cx="1002.2" cy="1262.2" r="7.25"/>
<circle cx="1024.4" cy="1270.0" r="7.25"/>
<circle cx="988.9" cy="1302.2" r="7.25"/>
<circle cx="966.7" cy="1291.1" r="7.25"/>
<circle cx="975.6" cy="1268.9" r="7.25"/>
<circle cx="977.8" cy="1253.3" r="7.25"/>
<circle cx="952.2" cy="1328.9" r="7.25"/>
<circle cx="941.1" cy="1337.8" r="7.25"/>
<circle cx="961.1" cy="1304.4" r="7.25"/>
<circle cx="962.2" cy="1317.8" r="7.25"/>
<circle cx="980.0" cy="1240.0" r="7.25"/>
<circle cx="964.4" cy="1311.1" r="7.25"/>
<circle cx="953.3" cy="1334.4" r="7.25"/>
<circle cx="938.9" cy="1333.3" r="7.25"/>
<circle cx="944.4" cy="1344.4" r="7.25"/>
<circle cx="927.8" cy="1344.4" r="7.25"/>
<circle cx="927.8" cy="1352.2" r="7.25"/>
<circle cx="866.7" cy="1400.0" r="7.25"/>
<circle cx="835.6" cy="1400.0" r="7.25"/>
<circle cx="978.9" cy="1315.6" r="7.25"/>
<circle cx="874.4" cy="1380.0" r="7.25"/>
<circle cx="875.6" cy="1386.7" r="7.25"/>
<circle cx="891.1" cy="1362.2" r="7.25"/>
<circle cx="907.8" cy="1361.1" r="7.25"/>
<circle cx="611.1" cy="1426.7" r="7.25"/>
<circle cx="624.4" cy="1426.7" r="7.25"/>
<circle cx="642.2" cy="1422.2" r="7.25"/>
<circle cx="655.6" cy="1422.2" r="7.25"/>
<circle cx="772.2" cy="1405.6" r="7.25"/>
<circle cx="722.2" cy="1402.2" r="7.25"/>
<circle cx="623.3" cy="1442.2" r="7.25"/>
<circle cx="691.1" cy="1420.0" r="7.25"/>
<circle cx="602.2" cy="1520.0" r="7.25"/>
<circle cx="462.2" cy="1374.4" r="7.25"/>
<circle cx="477.8" cy="1390.0" r="7.25"/>
<circle cx="527.8" cy="1404.4" r="7.25"/>
<circle cx="538.9" cy="1417.8" r="7.25"/>
<circle cx="511.1" cy="1362.2" r="7.25"/>
<circle cx="494.4" cy="1362.2" r="7.25"/>
<circle cx="516.7" cy="1428.9" r="7.25"/>
<circle cx="555.6" cy="1413.3" r="7.25"/>
<circle cx="566.7" cy="1420.0" r="7.25"/>
<circle cx="477.8" cy="1438.9" r="7.25"/>
<circle cx="1105.6" cy="923.2" r="7.25"/>
<circle cx="1124.3" cy="1005.1" r="7.25"/>
<circle cx="1158.3" cy="1087.1" r="7.25"/>
<circle cx="832.5" cy="822.5" r="7.25"/>
<polygon points="960.0,1080.0 987.2,1080.0 989.5,1091.7 1023.8,1099.4 1033.9,1115.0 1039.3,1128.2 1030.0,1134.4 1016.0,1134.4 1008.2,1146.1 1006.7,1157.8 1022.2,1157.8 1037.8,1165.5 1026.1,1173.3 1006.7,1180.0 960.0,1180.0"/>
<polygon points="495.0,1065.0 950.0,1040.0 960.0,1150.0 950.0,1300.0 900.0,1400.0 520.0,1410.0 450.0,1300.0 442.0,1160.0 470.0,1110.0"/>
</g>
<g fill="#000">
<circle cx="660.8" cy="492.0" r="7.25"/>
<circle cx="1115.0" cy="492.0" r="7.25"/>
<circle cx="1124.5" cy="545.0" r="7.25"/>
<circle cx="1052.0" cy="565.0" r="7.25"/>
<circle cx="1105.5" cy="580.5" r="7.25"/>
<circle cx="826.9" cy="636.6" r="7.25"/>
<circle cx="662.8" cy="648.2" r="7.25"/>
<circle cx="523.2" cy="655.0" r="7.25"/>
<circle cx="1107.5" cy="656.8" r="7.25"/>
<circle cx="773.5" cy="684.8" r="7.25"/>
<circle cx="869.0" cy="684.8" r="7.25"/>
<circle cx="962.5" cy="726.8" r="7.25"/>
<circle cx="811.7" cy="720.0" r="7.25"/>
<circle cx="889.0" cy="739.0" r="7.25"/>
<circle cx="1107.5" cy="738.0" r="7.25"/>
<circle cx="626.6" cy="756.4" r="7.25"/>
<circle cx="926.2" cy="763.2" r="7.25"/>
<circle cx="955.0" cy="762.0" r="7.25"/>
<circle cx="1058.0" cy="766.2" r="7.25"/>
<circle cx="899.0" cy="780.5" r="7.25"/>
<circle cx="886.0" cy="789.0" r="7.25"/>
<circle cx="857.5" cy="790.0" r="7.25"/>
<circle cx="950.8" cy="785.8" r="7.25"/>
<circle cx="1037.0" cy="784.5" r="7.25"/>
<circle cx="1115.0" cy="784.5" r="7.25"/>
<circle cx="700.9" cy="788.4" r="7.25"/>
<circle cx="592.1" cy="815.6" r="7.25"/>
<circle cx="611.1" cy="808.4" r="7.25"/>
<circle cx="882.2" cy="814.3" r="7.25"/>
<circle cx="1059.5" cy="841.5" r="7.25"/>
<circle cx="1013.8" cy="850.6" r="7.25"/>
<circle cx="1111.2" cy="847.8" r="7.25"/>
<circle cx="605.4" cy="836.5" r="7.25"/>
<circle cx="662.7" cy="836.5" r="7.25"/>
<circle cx="647.6" cy="844.9" r="7.25"/>
<circle cx="699.1" cy="840.8" r="7.25"/>
<circle cx="769.3" cy="836.5" r="7.25"/>
<circle cx="750.3" cy="849.0" r="7.25"/>
<circle cx="512.0" cy="860.5" r="7.25"/>
<circle cx="536.8" cy="856.5" r="7.25"/>
<circle cx="700.9" cy="874.2" r="7.25"/>
<circle cx="706.2" cy="886.1" r="7.25"/>
<circle cx="719.9" cy="880.1" r="7.25"/>
<circle cx="733.2" cy="892.9" r="7.25"/>
<circle cx="759.9" cy="878.7" r="7.25"/>
<circle cx="769.3" cy="895.2" r="7.25"/>
<circle cx="777.3" cy="900.0" r="7.25"/>
<circle cx="656.8" cy="898.2" r="7.25"/>
<circle cx="540.0" cy="901.2" r="7.25"/>
<circle cx="860.9" cy="862.1" r="7.25"/>
<circle cx="891.5" cy="880.4" r="7.25"/>
<circle cx="971.2" cy="893.0" r="7.25"/>
<circle cx="1111.2" cy="873.0" r="7.25"/>
<circle cx="1060.0" cy="881.2" r="7.25"/>
<circle cx="1062.5" cy="887.5" r="7.25"/>
<circle cx="1117.5" cy="888.8" r="7.25"/>
<circle cx="1105.0" cy="900.0" r="7.25"/>
<circle cx="1311.8" cy="905.5" r="7.25"/>
<circle cx="1212.5" cy="1002.5" r="7.25"/>
<circle cx="1183.8" cy="1058.9" r="7.25"/>
<circle cx="1237.3" cy="1056.2" r="7.25"/>
<circle cx="1310.0" cy="1090.0" r="7.25"/>
<circle cx="1189.6" cy="1118.0" r="7.25"/>
<circle cx="1256.2" cy="1112.2" r="7.25"/>
<circle cx="1252.7" cy="1125.6" r="7.25"/>
<circle cx="1141.8" cy="1163.3" r="7.25"/>
<circle cx="1146.0" cy="1188.4" r="7.25"/>
<circle cx="1242.9" cy="1190.0" r="7.25"/>
<circle cx="1195.1" cy="1211.1" r="7.25"/>
<circle cx="1439.6" cy="1230.7" r="7.25"/>
<circle cx="1321.6" cy="1264.4" r="7.25"/>
<circle cx="1206.7" cy="1348.9" r="7.25"/>
<circle cx="1344.0" cy="1338.9" r="7.25"/>
<circle cx="1703.0" cy="955.0" r="7.25"/>
<circle cx="1676.4" cy="1319.4" r="7.25"/>
<circle cx="1552.2" cy="1330.3" r="7.25"/>
</g>
<g fill="#FF0000">
<circle cx="1151.4" cy="96.6" r="7.25"/>
<circle cx="1342.2" cy="98.2" r="7.25"/>
<circle cx="1220.2" cy="233.2" r="7.25"/>
<circle cx="1260.2" cy="303.4" r="7.25"/>
<circle cx="1218.2" cy="451.3" r="7.25"/>
</g>
<g stroke="#000" stroke-width="4" stroke-linecap="round">
<line x1="810.6" y1="550" x2="823.8" y2="618.7"/>
<line x1="891.5" y1="585" x2="875" y2="657.5"/>
<line x1="742.4" y1="622.1" x2="765.4" y2="667.7"/>
<line x1="733.3" y1="683.5" x2="794.5" y2="712"/>
<line x1="837" y1="679.5" x2="876" y2="726.5"/>
<line x1="809" y1="743" x2="843.8" y2="777.2"/>
<line x1="1020" y1="640.75" x2="973.25" y2="711.25"/>
<line x1="936.75" y1="696.75" x2="928.75" y2="745"/>
<line x1="1092.5" y1="694.5" x2="1065.75" y2="749.25"/>
<line x1="1234.5" y1="695" x2="1125" y2="732.5"/>
<line x1="473.25" y1="766.75" x2="575" y2="808.75"/>
<line x1="1164.4" y1="808.75" x2="1077.5" y2="837"/>
<line x1="1277" y1="863.75" x2="1129.5" y2="849.5"/>
<line x1="1195" y1="920" x2="1133.75" y2="895"/>
<line x1="703.75" y1="990" x2="765.5" y2="914.5"/>
<line x1="912.5" y1="988" x2="962" y2="908.75"/>
<line x1="1011.25" y1="963.25" x2="1050" y2="898"/>
<line x1="1053.75" y1="1044.5" x2="1060.75" y2="906.25"/>
<line x1="1011.25" y1="870" x2="1007" y2="907"/>
</g>
<g font-size="36" fill="#000">
<text x="577.5" y="471.2">NSD1</text>
<text x="631.5" y="559.9">MAPKAP1</text>
<text x="672.8" y="615.6">GMPPB</text>
<text x="540.4" y="629.5">GNAS</text>
<text x="363.8" y="679.2">MS4A13</text>
<text x="714.5" y="671.9">LAMTOR4</text>
<text x="640.5" y="694.6">TAF4</text>
<text x="495.8" y="735.5">THG1L</text>
<text x="684.6" y="751.6">SERF2</text>
<text x="342.9" y="779.5">MAPK6</text>
<text x="591.0" y="799.6">PIK3CD</text>
<text x="671.6" y="818.2">SLC4A7</text>
<text x="456.5" y="835.5">NXT1</text>
<text x="1008.8" y="471.1">AHCYL1</text>
<text x="1142.9" y="528.0">PLAA</text>
<text x="980.0" y="543.8">APAF1</text>
<text x="1140.7" y="590.0">MCL1</text>
<text x="832.6" y="577.0">CASP9</text>
<text x="963.2" y="633.0">BCL2L11</text>
<text x="1144.0" y="647.5">RICTOR</text>
<text x="889.6" y="689.2">FLCN</text>
<text x="976.1" y="745.0">CD81</text>
<text x="1097.9" y="703.0">ALAS1</text>
<text x="1239.8" y="707.5">MLST8</text>
<text x="1126.6" y="763.0">KCTD5</text>
<text x="802.2" y="760.5">HCCS</text>
<text x="754.1" y="817.7">MTOR</text>
<text x="948.1" y="815.0">CD19</text>
<text x="1035.1" y="826.2">DOHH</text>
<text x="1170.1" y="820.5">CYCS</text>
<text x="865.8" y="872.5">IRPTOR</text>
<text x="743.7" y="874.2">ROMO1</text>
<text x="1136.7" y="877.6">UBE2K</text>
<text x="1282.4" y="877.0">MFN1</text>
<text x="1202.9" y="933.8">FECH</text>
<text x="1328.2" y="950.0">EIF4A1</text>
<text x="1093.6" y="938.8">IRF2</text>
<text x="1142.9" y="988.8">ATIC</text>
<text x="1252.0" y="1035.5">KLF16</text>
<text x="1546.2" y="978.8">IMPDH2</text>
<text x="396.9" y="890.5">ENY2</text>
<text x="547.1" y="890.5">TAF11</text>
<text x="416.0" y="947.0">ADIPOR1</text>
<text x="606.1" y="947.0">TMED10</text>
<text x="594.9" y="1003.2">IKZF1</text>
<text x="776.4" y="945.0">UBE2G2</text>
<text x="948.6" y="937.5">STAU1</text>
<text x="724.4" y="1002.5">SUV420H1</text>
<text x="935.8" y="996.2">RRAGA</text>
<text x="914.2" y="1058.8">DIABLO</text>
<text x="1075.8" y="1046.5">EBF1</text>
<text x="1075.1" y="1104.8">LSG1</text>
<text x="975.1" y="1162.0">HDAC7</text>
<text x="1001.5" y="1217.5">CDK5</text>
<text x="1217.7" y="1092.9">MDH1</text>
<text x="1319.7" y="1147.8">EIF3G</text>
<text x="1127.5" y="1167.1">KIAA0195</text>
<text x="1288.2" y="1222.7">SSU72</text>
<text x="1430.9" y="1209.5">INTS6</text>
<text x="1127.3" y="1273.3">ARID4B</text>
<text x="1348.2" y="1278.9">INTS8</text>
<text x="1225.8" y="1328.9">PHF2</text>
<text x="1323.8" y="1385.6">INTS1</text>
<text x="1669.3" y="1298.3">FIBP</text>
<text x="1458.6" y="1376.4">C2CD5</text>
<text x="1109.0" y="75.0">MARCH5</text>
<text x="1327.5" y="78.0">BAK1</text>
<text x="1180.0" y="212.0">UBQLN1</text>
<text x="1235.0" y="283.0">VDAC2</text>
<text x="1208.5" y="430.0">FAF2</text>
</g>
<g fill="#333333">
<rect x="317.1" y="1648" width="4" height="12"/>
<rect x="698.9" y="1648" width="4" height="12"/>
<rect x="1080.7" y="1648" width="4" height="12"/>
<rect x="1462.5" y="1648" width="4" height="12"/>
<rect x="136" y="359.1" width="12" height="4"/>
<rect x="136" y="781.3" width="12" height="4"/>
<rect x="136" y="1203.5" width="12" height="4"/>
<rect x="136" y="1625.7" width="12" height="4"/>
</g>
<g font-size="58.33" fill="#4D4D4D">
<text x="319.1" y="1711" text-anchor="middle">-2</text>
<text x="700.9" y="1711" text-anchor="middle">0</text>
<text x="1082.7" y="1711" text-anchor="middle">2</text>
<text x="1464.5" y="1711" text-anchor="middle">4</text>
<text x="127" y="382.1" text-anchor="end">6</text>
<text x="127" y="804.3" text-anchor="end">3</text>
<text x="127" y="1226.5" text-anchor="end">0</text>
<text x="127" y="1648.7" text-anchor="end">-3</text>
</g>
<text x="963.5" y="1767" font-size="45.55" text-anchor="middle" fill="#000">Dinaciclib 0.007uM exp355 CRANKS score</text>
<text transform="translate(55.5,834.4) rotate(-90)" font-size="45.55" text-anchor="middle" fill="#000">Benzoate 20000uM exp456 CRANKS score</text>
</svg></body></html>
